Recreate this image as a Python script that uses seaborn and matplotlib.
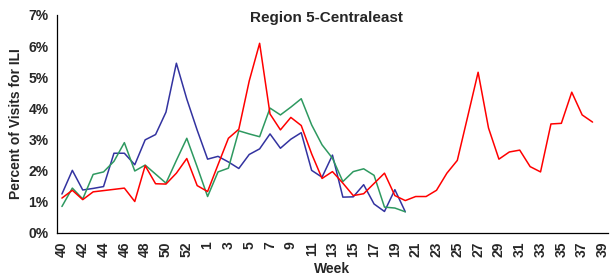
import matplotlib
matplotlib.use("Agg")
import matplotlib.pyplot as plt
import seaborn as sns
import numpy as np
import pandas as pd
from matplotlib.ticker import FuncFormatter, FixedLocator

weeks = list(range(40, 54)) + list(range(1, 40))

blue_vals = [1.25, 2.01, 1.38, 1.43, 1.49, 2.56, 2.56, 2.19, 2.99, 3.16, 3.88, 5.45, 4.30, 3.30,
             2.37, 2.46, 2.28, 2.07, 2.52, 2.70, 3.18, 2.72, 3.01, 3.22, 2.01, 1.79, 2.50, 1.15,
             1.16, 1.55, 0.93, 0.69, 1.39, 0.68]
green_vals = [0.85, 1.44, 1.09, 1.88, 1.96, 2.30, 2.90, 1.99, 2.18, 1.89, 1.60, 2.33, 3.04, 2.12,
              1.17, 1.96, 2.08, 3.28, 3.18, 3.09, 4.01, 3.79, 4.04, 4.31, 3.47, 2.83, 2.40, 1.65,
              1.97, 2.06, 1.85, 0.83, 0.80, 0.68]
red_vals = [1.12, 1.37, 1.07, 1.32, 1.36, 1.40, 1.44, 1.01, 2.16, 1.58, 1.57, 1.92, 2.39, 1.52,
            1.33, 2.19, 3.04, 3.33, 4.88, 6.09, 3.82, 3.31, 3.71, 3.45, 2.54, 1.75, 1.97, 1.60,
            1.20, 1.26, 1.59, 1.92, 1.20, 1.04, 1.17, 1.17, 1.37, 1.92, 2.33, 3.74, 5.16, 3.37,
            2.37, 2.60, 2.66, 2.13, 1.96, 3.50, 3.52, 4.52, 3.79, 3.56]

series = {"blue": blue_vals, "green": green_vals, "red": red_vals}
colors = {"blue": "#3333a0", "green": "#2e9960", "red": "#ff0000"}

rows = []
for name, vals in series.items():
    for i, v in enumerate(vals):
        rows.append({"pos": i, "week": weeks[i], "pct": v, "series": name})
df = pd.DataFrame(rows)

sns.set_style("white")
plt.rcParams["font.family"] = ["Liberation Sans", "DejaVu Sans"]

fig = plt.figure(figsize=(6.10, 2.77), dpi=100)
ax = fig.add_axes([0.093, 0.159, 0.904, 0.787])

sns.lineplot(data=df, x="pos", y="pct", hue="series", palette=colors,
             linewidth=1.1, legend=False, ax=ax, estimator=None)

ax.set_xlim(-0.5, len(weeks) - 0.5)
ax.set_ylim(0, 7)
ax.set_yticks(range(0, 8))
ax.yaxis.set_major_formatter(FuncFormatter(lambda v, p: f"{int(v)}%"))

ax.set_xticks(range(0, len(weeks), 2))
ax.set_xticklabels([str(weeks[i]) for i in range(0, len(weeks), 2)], rotation=90)
ax.xaxis.set_minor_locator(FixedLocator(np.arange(-0.5, len(weeks), 1)))
ax.tick_params(axis="x", which="major", length=0, pad=6)
ax.tick_params(axis="x", which="minor", length=4, width=0.8, color="black", direction="out")
ax.tick_params(axis="y", length=4, width=0.8, color="black", direction="out", pad=2)

for lab in ax.get_xticklabels() + ax.get_yticklabels():
    lab.set_fontweight("bold")
    lab.set_fontsize(10)

for side in ["top", "right"]:
    ax.spines[side].set_visible(False)
for side in ["left", "bottom"]:
    ax.spines[side].set_color("black")
    ax.spines[side].set_linewidth(0.9)

ax.text(0.49, 0.985, "Region 5-Centraleast", transform=ax.transAxes, ha="center", va="center",
        fontsize=11, fontweight="bold")
ax.set_xlabel("Week", fontsize=10, fontweight="bold", labelpad=4)
ax.set_ylabel("Percent of Visits for ILI", fontsize=10, fontweight="bold", labelpad=4)

fig.savefig("out.png", dpi=100)
